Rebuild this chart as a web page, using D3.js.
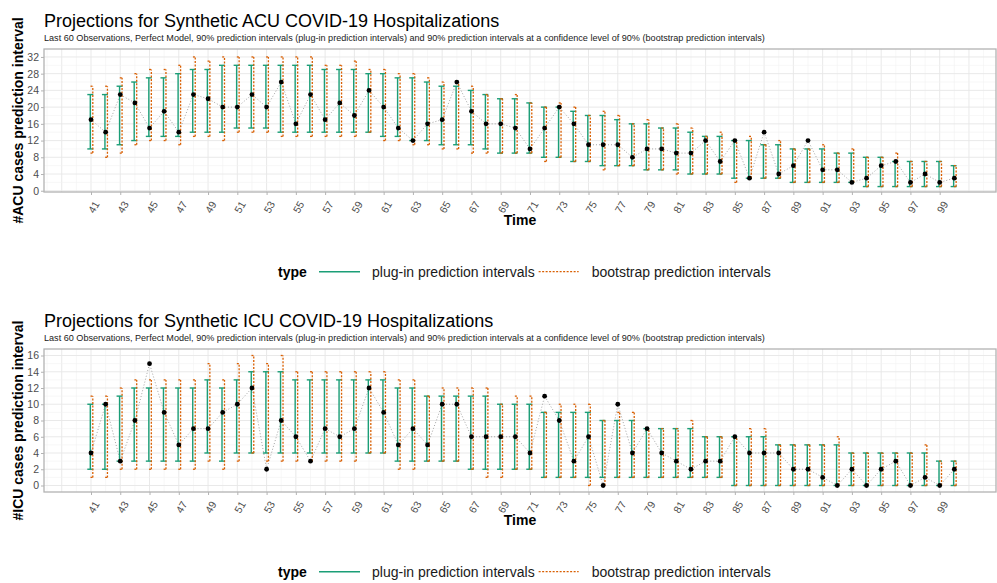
<!DOCTYPE html>
<html>
<head>
<meta charset="utf-8">
<script src="https://cdn.jsdelivr.net/npm/d3@7"></script>
<style>
  body { margin: 0; background: #ffffff; }
  text { font-family: "Liberation Sans", Arial, sans-serif; }
</style>
</head>
<body>
<div id="chart"></div>
<script>
// time steps 41..100
var times = d3.range(41, 101);

// ACU panel
var acuObs = [17,14,23,21,15,19,14,23,22,20, 20,23,20,26,16,23,17,21,18,24,
              20,15,12,16,17,26,19,16,16,15, 10,15,20,16,11,11,11,8,10,10,
              9,9,12,7,12,3,14,4,6,12, 5,5,2,3,6,7,2,4,2,3];
var acuPlugLo = [10,10,11,12,13,13,13,14,14,14, 15,15,15,14,14,14,14,14,14,14,
                 13,13,12,12,11,11,11,10,9,9, 9,8,8,7,7,6,6,6,5,5,
                 5,4,4,4,3,3,3,3,2,2, 2,2,2,1,1,1,1,1,1,1];
var acuPlugHi = [23,23,25,26,27,27,28,29,29,30, 30,30,30,30,30,30,29,29,29,28,
                 28,27,27,26,25,25,24,23,22,22, 21,20,20,19,18,18,17,16,16,15,
                 15,14,13,13,12,12,11,11,10,10, 10,9,9,8,8,7,7,7,7,6];
var acuBootLo = [9,8,9,11,12,12,11,13,13,12, 14,14,14,13,13,13,13,13,13,14,
                 12,12,11,11,10,10,9,9,9,9, 9,7,8,7,7,5,6,6,5,5,
                 4,4,4,4,2,3,3,3,2,2, 2,2,2,1,1,1,1,1,1,1];
var acuBootHi = [25,25,27,28,29,29,30,32,31,32, 32,32,32,32,32,32,30,30,31,29,
                 29,28,28,27,26,26,25,23,22,23, 21,20,21,20,18,19,18,16,17,15,
                 16,15,13,14,12,13,11,12,10,10, 11,9,10,8,8,9,7,7,7,6];

// ICU panel
var icuObs = [4,10,3,8,15,9,5,7,7,9, 10,12,2,8,6,3,7,6,7,12,
              9,5,7,5,10,10,6,6,6,6, 4,11,8,3,6,0,10,4,7,4,
              3,2,3,3,6,4,4,4,2,2, 1,0,2,0,2,3,0,1,0,2];
var icuPlugLo = [2,2,3,3,3,3,3,3,4,3, 4,4,4,4,4,4,4,4,4,4,
                 4,3,3,3,3,3,2,2,2,2, 2,1,1,1,1,1,1,1,1,1,
                 1,1,1,1,0,0,0,0,0,0, 0,0,0,0,0,0,0,0,0,0];
var icuPlugHi = [10,10,11,12,12,12,12,12,13,12, 13,14,14,14,13,13,13,13,13,13,
                 13,12,12,11,11,11,11,11,10,10, 10,9,9,9,9,8,8,8,7,7,
                 7,7,6,6,6,6,6,5,5,5, 5,5,4,4,4,4,4,4,3,3];
var icuBootLo = [1,1,2,2,2,2,2,2,3,2, 3,4,3,3,3,3,3,3,3,4,
                 4,2,2,3,3,3,2,1,1,2, 2,1,1,1,0,0,1,1,1,1,
                 1,1,1,1,0,0,0,0,0,0, 0,0,0,0,0,0,0,0,0,0];
var icuBootHi = [11,11,12,13,13,13,13,13,15,13, 15,16,15,16,14,14,14,14,14,14,
                 14,13,13,11,12,12,12,12,10,11, 11,9,10,10,10,8,9,9,7,7,
                 7,8,6,6,6,7,7,5,5,5, 5,6,4,4,4,4,4,5,3,3];

var xTicks = d3.range(41, 101, 2);
var typeLabels = ['plug-in prediction intervals', 'bootstrap prediction intervals'];
var subtitle = 'Last 60 Observations, Perfect Model, 90% prediction intervals (plug-in prediction intervals) and 90% prediction intervals at a confidence level of 90% (bootstrap prediction intervals)';

var green = '#1b9e77', orange = '#d95f02';
var width = 997, height = 583;
// panel box (window.top is reserved, so p prefix)
var pLeft = 44, pRight = 996, pTop = 49, pBottom = 192;

var svg = d3.select('#chart').append('svg')
    .attr('width', width).attr('height', height);

// same x scale for both panels
var x = d3.scaleLinear().domain([41, 99]).range([91, 939.7]);

function drawPanel(offset, name, obs, plo, phi, blo, bhi, yDomain, yStep) {
    var g = svg.append('g').attr('transform', 'translate(0,' + offset + ')');
    var y = d3.scaleLinear().domain(yDomain).range([pBottom, pTop]);
    var rows = times.map(function(t, i) {
        return {t: t, obs: obs[i], plo: plo[i], phi: phi[i], blo: blo[i], bhi: bhi[i]};
    });

    // grid
    var xGrid = d3.range(Math.ceil(x.invert(pLeft)), Math.floor(x.invert(pRight)) + 1);
    var yGrid = d3.range(0, y.domain()[1], yStep / 2);
    g.selectAll('.vgrid').data(xGrid).enter().append('line')
        .attr('x1', function(d) { return x(d); }).attr('x2', function(d) { return x(d); })
        .attr('y1', pTop).attr('y2', pBottom)
        .attr('stroke', function(d) { return d % 2 ? '#e6e6e6' : '#f1f1f1'; })
        .attr('stroke-width', function(d) { return d % 2 ? 0.9 : 0.6; });
    g.selectAll('.hgrid').data(yGrid).enter().append('line')
        .attr('x1', pLeft).attr('x2', pRight)
        .attr('y1', function(d) { return y(d); }).attr('y2', function(d) { return y(d); })
        .attr('stroke', function(d) { return d % yStep ? '#f1f1f1' : '#e6e6e6'; })
        .attr('stroke-width', function(d) { return d % yStep ? 0.6 : 0.9; });

    // panel border
    g.append('rect').attr('x', pLeft).attr('y', pTop)
        .attr('width', pRight - pLeft).attr('height', pBottom - pTop)
        .attr('fill', 'none').attr('stroke', '#b3b3b3').attr('stroke-width', 1.3);

    // y axis
    var yAxis = g.append('g').attr('transform', 'translate(' + pLeft + ',0)')
        .call(d3.axisLeft(y).tickValues(d3.range(0, y.domain()[1], yStep)).tickSize(3).tickPadding(2));
    yAxis.select('.domain').remove();
    yAxis.selectAll('line').attr('stroke', '#b3b3b3');
    yAxis.selectAll('text').attr('fill', '#4d4d4d').attr('font-size', '10.5px')
        .attr('font-family', '"Liberation Sans", Arial, sans-serif');

    // x axis
    var xAxis = g.append('g').attr('transform', 'translate(0,' + pBottom + ')')
        .call(d3.axisBottom(x).tickValues(xTicks).tickSize(3).tickFormat(d3.format('d')));
    xAxis.select('.domain').remove();
    xAxis.selectAll('line').attr('stroke', '#b3b3b3');
    xAxis.selectAll('text').attr('fill', '#4d4d4d').attr('font-size', '10.5px')
        .attr('font-family', '"Liberation Sans", Arial, sans-serif')
        .attr('y', 0).attr('dy', null)
        .attr('text-anchor', 'middle').attr('dominant-baseline', 'central')
        .attr('transform', 'translate(2,15) rotate(-60)');

    // observed line
    var line = d3.line().x(function(d) { return x(d.t); }).y(function(d) { return y(d.obs); });
    g.append('path').datum(rows).attr('d', line)
        .attr('fill', 'none').attr('stroke', '#9a9a9a')
        .attr('stroke-width', 0.9).attr('stroke-dasharray', '1,2');

    // plug-in intervals
    var pg = g.selectAll('.plug').data(rows).enter().append('g')
        .attr('stroke', green).attr('stroke-width', 1.4);
    pg.append('line')
        .attr('x1', function(d) { return x(d.t) - 0.7; }).attr('x2', function(d) { return x(d.t) - 0.7; })
        .attr('y1', function(d) { return y(d.plo); }).attr('y2', function(d) { return y(d.phi); });
    pg.append('line')
        .attr('x1', function(d) { return x(d.t) - 3.7; }).attr('x2', function(d) { return x(d.t) + 2.3; })
        .attr('y1', function(d) { return y(d.phi); }).attr('y2', function(d) { return y(d.phi); });
    pg.append('line')
        .attr('x1', function(d) { return x(d.t) - 3.7; }).attr('x2', function(d) { return x(d.t) + 2.3; })
        .attr('y1', function(d) { return y(d.plo); }).attr('y2', function(d) { return y(d.plo); });

    // bootstrap intervals
    var bg = g.selectAll('.boot').data(rows).enter().append('g')
        .attr('stroke', orange).attr('stroke-width', 1.3).attr('stroke-dasharray', '2,1.5');
    bg.append('line')
        .attr('x1', function(d) { return x(d.t) + 1.8; }).attr('x2', function(d) { return x(d.t) + 1.8; })
        .attr('y1', function(d) { return y(d.blo); }).attr('y2', function(d) { return y(d.bhi); });
    bg.append('line')
        .attr('x1', function(d) { return x(d.t) - 0.5; }).attr('x2', function(d) { return x(d.t) + 2.5; })
        .attr('y1', function(d) { return y(d.bhi); }).attr('y2', function(d) { return y(d.bhi); });
    bg.append('line')
        .attr('x1', function(d) { return x(d.t) - 0.5; }).attr('x2', function(d) { return x(d.t) + 2.5; })
        .attr('y1', function(d) { return y(d.blo); }).attr('y2', function(d) { return y(d.blo); });

    // observed points
    g.selectAll('.pt').data(rows).enter().append('circle')
        .attr('cx', function(d) { return x(d.t); }).attr('cy', function(d) { return y(d.obs); })
        .attr('r', 2.4).attr('fill', '#000');

    // titles
    g.append('text').attr('x', pLeft).attr('y', 26.7)
        .attr('font-size', '18px').attr('fill', '#000')
        .text('Projections for Synthetic ' + name + ' COVID-19 Hospitalizations');
    g.append('text').attr('x', pLeft).attr('y', 40.5)
        .attr('font-size', '9.1px').attr('fill', '#1a1a1a')
        .text(subtitle);
    g.append('text').attr('transform', 'translate(23,' + (pTop + pBottom) / 2 + ') rotate(-90)')
        .attr('text-anchor', 'middle').attr('font-size', '14px').attr('font-weight', 'bold')
        .text('#' + name + ' cases prediction interval');
    g.append('text').attr('x', (pLeft + pRight) / 2).attr('y', 225)
        .attr('text-anchor', 'middle').attr('font-size', '14px').attr('font-weight', 'bold')
        .text('Time');

    // legend, laid out from measured text widths
    var ly = 271.7;
    g.append('text').attr('x', 278).attr('y', ly).attr('dy', '0.35em')
        .attr('font-size', '14px').attr('font-weight', 'bold').text('type');
    g.append('line').attr('x1', 319).attr('x2', 360).attr('y1', ly).attr('y2', ly)
        .attr('stroke', green).attr('stroke-width', 1.4);
    var t1 = g.append('text').attr('x', 372).attr('y', ly).attr('dy', '0.35em')
        .attr('font-size', '14px').attr('fill', '#1a1a1a').text(typeLabels[0]);
    var k2 = 372 + t1.node().getComputedTextLength() + 4;
    g.append('line').attr('x1', k2).attr('x2', k2 + 40).attr('y1', ly).attr('y2', ly)
        .attr('stroke', orange).attr('stroke-width', 1.3).attr('stroke-dasharray', '2,1.5');
    g.append('text').attr('x', k2 + 53).attr('y', ly).attr('dy', '0.35em')
        .attr('font-size', '14px').attr('fill', '#1a1a1a').text(typeLabels[1]);
}

drawPanel(0, 'ACU', acuObs, acuPlugLo, acuPlugHi, acuBootLo, acuBootHi, [-0.3, 33.9], 4);
drawPanel(300, 'ICU', icuObs, icuPlugLo, icuPlugHi, icuBootLo, icuBootHi, [-0.8, 16.8], 2);
</script>
</body>
</html>
